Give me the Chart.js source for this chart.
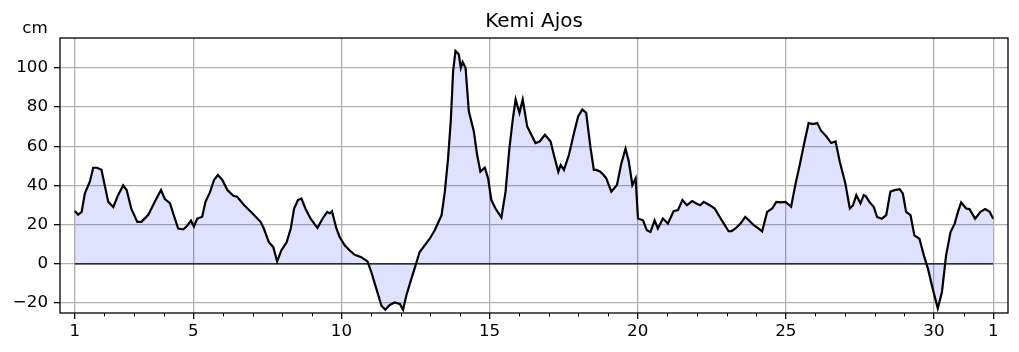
<!DOCTYPE html>
<html>
<head>
<meta charset="utf-8">
<title>Kemi Ajos</title>
<script src="https://cdn.jsdelivr.net/npm/chart.js@4.4.1/dist/chart.umd.min.js"></script>
<style>
  html, body { margin: 0; padding: 0; background: #fff; }
  #wrap { width: 1019px; height: 352px; }
</style>
</head>
<body>
<div id="wrap"><canvas id="grafico" width="1019" height="352"></canvas></div>
<script>
// --- Data ---
const chartTitle = "Kemi Ajos";
const unit = "cm";

// day of month (fractional) and water level in cm
const days = [
  1.00, 1.11, 1.23, 1.34, 1.51, 1.62, 1.75, 1.90, 2.01, 2.13, 2.30, 2.46, 2.63, 2.75, 2.91,
  3.11, 3.25, 3.48, 3.70, 3.91, 4.04, 4.21, 4.38, 4.49, 4.66, 4.77, 4.92, 5.02, 5.13, 5.30,
  5.41, 5.56, 5.70, 5.83, 5.98, 6.15, 6.35, 6.48, 6.71, 7.00, 7.27, 7.38, 7.55, 7.70, 7.83,
  7.97, 8.15, 8.29, 8.40, 8.53, 8.65, 8.79, 8.96, 9.19, 9.36, 9.52, 9.61, 9.68, 9.83, 9.94,
  10.11, 10.28, 10.45, 10.67, 10.88, 11.01, 11.18, 11.35, 11.48, 11.63, 11.80, 11.97, 12.08, 12.19, 12.36,
  12.50, 12.64, 12.81, 12.98, 13.15, 13.38, 13.49, 13.60, 13.69, 13.77, 13.85, 13.96, 14.03, 14.09, 14.19,
  14.30, 14.47, 14.58, 14.69, 14.84, 14.95, 15.06, 15.20, 15.40, 15.54, 15.67, 15.79, 15.88, 16.01, 16.12,
  16.27, 16.44, 16.55, 16.69, 16.87, 17.06, 17.17, 17.32, 17.40, 17.51, 17.68, 17.85, 17.99, 18.13, 18.26,
  18.41, 18.52, 18.60, 18.74, 18.85, 18.94, 19.11, 19.30, 19.45, 19.59, 19.70, 19.82, 19.93, 20.01, 20.18,
  20.31, 20.43, 20.57, 20.68, 20.85, 21.02, 21.21, 21.36, 21.51, 21.66, 21.84, 21.98, 22.11, 22.23, 22.43,
  22.60, 22.77, 22.94, 23.07, 23.17, 23.30, 23.47, 23.63, 23.75, 23.92, 24.05, 24.20, 24.37, 24.54, 24.68,
  24.82, 24.99, 25.18, 25.32, 25.47, 25.61, 25.77, 25.92, 26.06, 26.19, 26.37, 26.53, 26.68, 26.82, 27.01,
  27.16, 27.27, 27.38, 27.52, 27.63, 27.70, 27.82, 27.97, 28.08, 28.24, 28.39, 28.53, 28.67, 28.84, 28.95,
  29.06, 29.21, 29.34, 29.51, 29.66, 29.80, 29.96, 30.13, 30.27, 30.41, 30.56, 30.70, 30.81, 30.92, 31.09,
  31.20, 31.39, 31.57, 31.73, 31.88, 32.00
];
const levels = [
  27, 25, 26.5, 36, 42, 49, 49, 48, 40, 31.6, 29, 35, 40, 37.6, 28,
  21.4, 21.4, 25, 31.6, 37.6, 33, 31, 23, 18, 17.6, 19, 22, 19, 23, 24,
  31.6, 36.4, 42.8, 45.3, 42.8, 37.6, 34.7, 34.2, 30, 25.7, 21.4, 18, 11, 8.5, 1.2,
  6.8, 11, 18, 28, 32.5, 33.3, 28, 23, 18.3, 23, 26.5, 25.7, 26.8, 18, 13.7,
  9.4, 6.8, 4.6, 3.4, 1.2, -4.3, -12.8, -21.4, -23.4, -21, -19.7, -20.5, -23.4, -16.2, -7.7,
  -0.9, 6, 9.4, 12.8, 17.1, 24.8, 36.8, 53.9, 72.7, 98.3, 108.6, 106.9, 100, 103, 100,
  77.8, 67.5, 55.6, 47, 49, 43.6, 32.5, 28.2, 23.6, 36.8, 59, 74.4, 83.8, 77, 83.8,
  70.1, 65, 61.6, 62.4, 65.8, 62.4, 55.6, 47, 50.4, 47.9, 55.6, 66.7, 75.2, 78.7, 77,
  59, 47.9, 47.9, 47, 45.3, 43.6, 36.8, 40.2, 51.3, 58.7, 52.2, 40.2, 43.6, 23.1, 22.2,
  17.1, 16.2, 22.2, 18, 23.1, 20.5, 26.8, 27.4, 32.5, 29.9, 32, 30.8, 29.9, 31.6, 29.9,
  28.2, 23.9, 19.7, 16.6, 16.6, 18, 20.5, 23.9, 22.2, 19.7, 18.3, 16.6, 26.5, 28.2, 31.6,
  31.3, 31.6, 29.1, 40.2, 50.4, 60.7, 71.8, 71.3, 71.8, 67.9, 65, 61.6, 62.4, 52.2, 41,
  28.2, 29.9, 35, 30.8, 35, 34.5, 31.6, 29, 23.9, 23, 24.8, 36.8, 37.6, 38.1, 35.9,
  26.5, 24.8, 14.5, 12.8, 4.3, -2.6, -12.8, -22.7, -14.5, 4.3, 16.2, 20.5, 26.5, 31.3, 28.2,
  27.9, 23, 26.5, 27.9, 26.5, 23
];

// reference line at zero
const zeroDays = [1, 32];
const zeroLevels = [0, 0];

// axes
const dayTicks = Array.from({ length: 32 }, (_, i) => i + 1);
const labelDays = [1, 5, 10, 15, 20, 25, 30, 32];
const labelTexts = ["1", "5", "10", "15", "20", "25", "30", "1"];
const levelTicks = [-20, 0, 20, 40, 60, 80, 100];

// --- Style ---
const FONT = "DejaVu Sans";
const GRID = "#b0b0b0";

// --- Frame, minor ticks, title and unit label ---
const framePlugin = {
  id: "frame",
  afterDraw(chart) {
    const { ctx, chartArea: a, scales: { x } } = chart;
    ctx.save();
    ctx.strokeStyle = "#000";
    ctx.lineWidth = 1;
    dayTicks.filter(d => !labelDays.includes(d)).forEach(d => {
      const px = Math.round(x.getPixelForValue(d)) + 0.5;
      ctx.beginPath();
      ctx.moveTo(px, a.bottom);
      ctx.lineTo(px, a.bottom + 3.5);
      ctx.stroke();
    });
    ctx.lineWidth = 1.3;
    ctx.strokeRect(a.left, a.top, a.right - a.left, a.bottom - a.top);

    ctx.fillStyle = "#000";
    ctx.textAlign = "center";
    ctx.textBaseline = "alphabetic";
    ctx.font = `20px "${FONT}"`;
    ctx.fillText(chartTitle, (a.left + a.right) / 2, 27);
    ctx.font = `16.7px "${FONT}"`;
    ctx.fillText(unit, 35, 33);
    ctx.restore();
  }
};

// --- Chart ---
const ctx = document.getElementById("grafico").getContext("2d");
new Chart(ctx, {
  type: "line",
  data: {
    datasets: [
      {
        data: days.map((d, i) => ({ x: d, y: levels[i] })),
        borderColor: "#000",
        borderWidth: 2.2,
        backgroundColor: "rgba(0, 0, 255, 0.12)",
        fill: { target: "origin" },
        pointRadius: 0,
        tension: 0
      },
      {
        data: zeroDays.map((d, i) => ({ x: d, y: zeroLevels[i] })),
        borderColor: "#000",
        borderWidth: 1.3,
        fill: false,
        pointRadius: 0
      }
    ]
  },
  options: {
    responsive: false,
    animation: false,
    devicePixelRatio: 1,
    layout: { padding: { left: 0, right: 11, top: 38, bottom: 0 } },
    plugins: {
      legend: { display: false },
      tooltip: { enabled: false },
      title: { display: false }
    },
    scales: {
      x: {
        type: "linear",
        min: 0.5,
        max: 32.5,
        afterBuildTicks: s => { s.ticks = dayTicks.map(v => ({ value: v })); },
        afterFit: s => { s.height = 39; },
        ticks: {
          autoSkip: false,
          maxRotation: 0,
          color: "#000",
          padding: 3,
          font: { family: FONT, size: 16.7 },
          callback: v => {
            const i = labelDays.indexOf(v);
            return i < 0 ? "" : labelTexts[i];
          }
        },
        grid: {
          color: c => labelDays.includes(c.tick && c.tick.value) ? GRID : "rgba(0,0,0,0)",
          tickColor: c => labelDays.includes(c.tick && c.tick.value) ? "#000" : "rgba(0,0,0,0)",
          lineWidth: 1.3,
          tickLength: 6
        },
        border: { display: false }
      },
      y: {
        type: "linear",
        min: -25.1,
        max: 115.2,
        afterBuildTicks: s => { s.ticks = levelTicks.map(v => ({ value: v })); },
        afterFit: s => { s.width = 60; },
        ticks: {
          color: "#000",
          padding: 6,
          font: { family: FONT, size: 16.7 },
          callback: v => v < 0 ? "\u2212" + Math.abs(v) : String(v)
        },
        grid: {
          color: GRID,
          tickColor: "#000",
          lineWidth: 1.3,
          tickLength: 6
        },
        border: { display: false }
      }
    }
  },
  plugins: [framePlugin]
});
</script>
</body>
</html>
